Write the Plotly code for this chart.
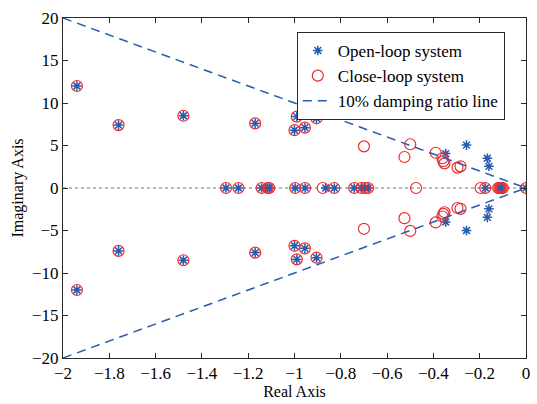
import plotly.graph_objects as go

# Open-loop poles (stars)
ol_re = [-1.94, -1.94, -1.76, -1.76, -1.48, -1.48, -1.17, -1.17, -0.99, -0.99,
         -1.00, -1.00, -0.955, -0.955, -0.905, -0.905, -0.347, -0.347, -0.257, -0.257,
         -0.167, -0.167, -0.160, -0.160,
         -1.296, -1.242, -1.142, -1.116, -1.109, -0.997, -0.954, -0.865, -0.828,
         -0.742, -0.711, -0.694, -0.682, -0.175, -0.112, -0.106, 0.0]
ol_im = [12.0, -12.0, 7.4, -7.4, 8.5, -8.5, 7.6, -7.6, 8.4, -8.4,
         6.8, -6.8, 7.1, -7.1, 8.2, -8.2, 4.05, -4.0, 5.05, -5.0,
         3.5, -3.45, 2.55, -2.45,
         0, 0, 0, 0, 0, 0, 0, 0, 0,
         0, 0, 0, 0, 0, 0, 0, 0]

# Closed-loop poles (circles)
cl_re = [-1.94, -1.94, -1.76, -1.76, -1.48, -1.48, -1.17, -1.17, -0.99, -0.99,
         -1.00, -1.00, -0.955, -0.955, -0.905, -0.905,
         -0.70, -0.70, -0.50, -0.50, -0.525, -0.525, -0.39, -0.39,
         -0.361, -0.361, -0.357, -0.357, -0.352, -0.352, -0.296, -0.296, -0.283, -0.283,
         -1.296, -1.242, -1.142, -1.116, -1.109, -0.997, -0.954, -0.878, -0.828,
         -0.742, -0.711, -0.694, -0.682, -0.475, -0.196, -0.176,
         -0.120, -0.115, -0.110, -0.105, -0.100, 0.0]
cl_im = [12.0, -12.0, 7.4, -7.4, 8.5, -8.5, 7.6, -7.6, 8.4, -8.4,
         6.8, -6.8, 7.1, -7.1, 8.2, -8.2,
         4.9, -4.8, 5.15, -5.05, 3.65, -3.55, 4.15, -4.05,
         3.5, -3.35, 3.15, -3.05, 2.9, -2.85, 2.4, -2.35, 2.55, -2.45,
         0, 0, 0, 0, 0, 0, 0, 0, 0,
         0, 0, 0, 0, 0, 0, 0,
         0, 0, 0, 0, 0, 0]

# 10% damping ratio line
dr_re = [-2.0, 0.0, None, -2.0, 0.0]
dr_im = [20.0, 0.0, None, -20.0, 0.0]

zero_re = [-2.0, 0.0]
zero_im = [0.0, 0.0]

x_ticks = [-2, -1.8, -1.6, -1.4, -1.2, -1, -0.8, -0.6, -0.4, -0.2, 0]
y_ticks = [-20, -15, -10, -5, 0, 5, 10, 15, 20]

FONT = "Liberation Serif, Times New Roman, serif"
BLUE = "rgb(40,90,175)"
RED = "rgb(235,45,45)"

fig = go.Figure()

fig.add_trace(go.Scatter(x=zero_re, y=zero_im, mode="lines",
                         line=dict(color="rgb(160,160,160)", width=1.5, dash="dot"),
                         showlegend=False, hoverinfo="skip"))

fig.add_trace(go.Scatter(x=ol_re, y=ol_im, mode="markers", name="Open-loop system",
                         marker=dict(symbol="asterisk-open", size=8,
                                     line=dict(color=BLUE, width=1.5), color=BLUE)))

fig.add_trace(go.Scatter(x=cl_re, y=cl_im, mode="markers", name="Close-loop system",
                         marker=dict(symbol="circle-open", size=11,
                                     line=dict(color=RED, width=1.2), color=RED)))

fig.add_trace(go.Scatter(x=dr_re, y=dr_im, mode="lines", name="10% damping ratio line",
                         line=dict(color=BLUE, width=1.5, dash="9px,6px")))

axis_common = dict(showgrid=False, zeroline=False, showline=True, linecolor="rgb(40,40,40)",
                   linewidth=1, mirror="ticks", ticks="inside", ticklen=5,
                   tickcolor="rgb(40,40,40)", tickfont=dict(family=FONT, size=17, color="black"))

fig.update_layout(
    width=537, height=404,
    margin=dict(l=63, r=7, t=18, b=42),
    paper_bgcolor="white", plot_bgcolor="white",
    font=dict(family=FONT, size=16, color="black"),
    xaxis=dict(range=[-2, 0], tickvals=x_ticks,
               title=dict(text="Real Axis", font=dict(family=FONT, size=16), standoff=2),
               **axis_common),
    yaxis=dict(range=[-20, 20], tickvals=y_ticks,
               title=dict(text="Imaginary Axis", font=dict(family=FONT, size=16), standoff=4),
               **axis_common),
    legend=dict(x=0.505, y=0.959, xanchor="left", yanchor="top",
                bgcolor="white", bordercolor="rgb(40,40,40)", borderwidth=1,
                font=dict(family=FONT, size=17), tracegroupgap=0),
)

fig.write_html("out.html")
